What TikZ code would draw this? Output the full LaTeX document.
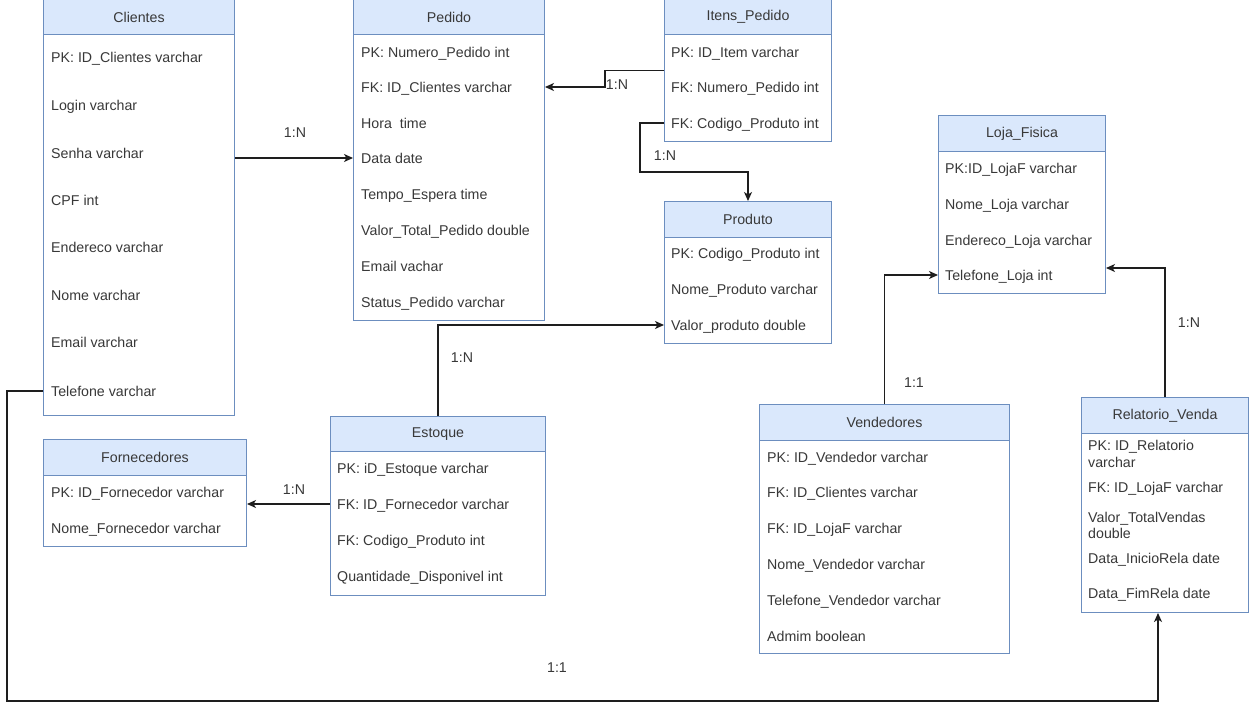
\documentclass[tikz,border=0pt]{standalone}
\usepackage{fontspec}
\setmainfont{Liberation Sans}
\usetikzlibrary{arrows.meta}
\definecolor{hdrfill}{HTML}{DAE8FC}
\definecolor{hdrline}{HTML}{6C8EBF}
\definecolor{txt}{HTML}{383838}
\definecolor{wire}{HTML}{1E1E1E}

% table: #1 name, #2 left, #3 top, #4 right, #5 header bottom, #6 bottom, #7 title
\newcommand\ertable[7]{%
  \node[tblbody, minimum width={#4-#2}, minimum height={#6-#3}] (#1) at (#2,#3) {};
  \node[tblhead, minimum width={#4-#2}, minimum height={#5-#3}] (#1h) at (#2,#3) {#7};
}
% attribute row: #1 name, #2 x, #3 y (centre of the capitals), #4 text
\newcommand\errow[4]{\node[rowtxt] (#1) at (#2,#3) {#4};}

\begin{document}
\begin{tikzpicture}[x=1pt,y=-1pt,
  font=\fontsize{14.2}{16}\selectfont,
  tblbody/.style={draw=hdrline, line width=1pt, anchor=north west, inner sep=0},
  tblhead/.style={draw=hdrline, line width=1pt, fill=hdrfill, anchor=north west, inner sep=0, text=txt},
  rowtxt/.style={anchor=west, inner sep=0, text height=10pt, text depth=0pt, text=txt},
  card/.style={inner sep=0, text=txt},
  conn/.style={draw=wire, line width=1.3pt, -{Stealth[length=9pt,width=8pt,inset=2.5pt]}}]

\useasboundingbox[fill=white] (0,0) rectangle (1251,712);

% ---------- Clientes ----------
\ertable{cli}{43}{-1}{234}{34}{415}{Clientes}
\errow{cli1}{51}{57}{PK: ID\_Clientes varchar}
\errow{cli2}{51}{105}{Login varchar}
\errow{cli3}{51}{153}{Senha varchar}
\errow{cli4}{51}{200}{CPF int}
\errow{cli5}{51}{247}{Endereco varchar}
\errow{cli6}{51}{295}{Nome varchar}
\errow{cli7}{51}{342}{Email varchar}
\errow{cliTel}{51}{391}{Telefone varchar}

% ---------- Pedido ----------
\ertable{ped}{353}{-1}{544}{34}{320}{Pedido}
\errow{ped1}{361}{52}{PK: Numero\_Pedido int}
\errow{pedFK}{361}{87}{FK: ID\_Clientes varchar}
\errow{ped3}{361}{123}{Hora\ \ time}
\errow{pedData}{361}{158}{Data date}
\errow{ped5}{361}{194}{Tempo\_Espera time}
\errow{ped6}{361}{230}{Valor\_Total\_Pedido double}
\errow{ped7}{361}{266}{Email vachar}
\errow{ped8}{361}{302}{Status\_Pedido varchar}

% ---------- Itens_Pedido ----------
\ertable{itn}{664}{-1}{831}{34}{141}{Itens\_Pedido}
\errow{itn1}{671}{52}{PK: ID\_Item varchar}
\errow{itn2}{671}{87}{FK: Numero\_Pedido int}
\errow{itnCod}{671}{123}{FK: Codigo\_Produto int}

% ---------- Produto ----------
\ertable{prd}{664}{201}{831}{237}{343}{Produto}
\errow{prd1}{671}{253}{PK: Codigo\_Produto int}
\errow{prd2}{671}{289}{Nome\_Produto varchar}
\errow{prdVal}{671}{325}{Valor\_produto double}

% ---------- Loja_Fisica ----------
\ertable{loja}{938}{115}{1105}{151}{293}{Loja\_Fisica}
\errow{loja1}{945}{168}{PK:ID\_LojaF varchar}
\errow{loja2}{945}{204}{Nome\_Loja varchar}
\errow{loja3}{945}{240}{Endereco\_Loja varchar}
\errow{lojaTel}{945}{275}{Telefone\_Loja int}

% ---------- Fornecedores ----------
\ertable{forn}{43}{439}{246}{475}{546}{Fornecedores}
\errow{forn1}{51}{492}{PK: ID\_Fornecedor varchar}
\errow{forn2}{51}{528}{Nome\_Fornecedor varchar}

% ---------- Estoque ----------
\ertable{est}{330}{416}{545}{451}{595}{Estoque}
\errow{est1}{337}{468}{PK: iD\_Estoque varchar}
\errow{estFK}{337}{504}{FK: ID\_Fornecedor varchar}
\errow{est3}{337}{540}{FK: Codigo\_Produto int}
\errow{est4}{337}{576}{Quantidade\_Disponivel int}

% ---------- Vendedores ----------
\ertable{vend}{759}{404}{1009}{440}{653}{Vendedores}
\errow{vend1}{767}{457}{PK: ID\_Vendedor varchar}
\errow{vend2}{767}{492}{FK: ID\_Clientes varchar}
\errow{vend3}{767}{528}{FK: ID\_LojaF varchar}
\errow{vend4}{767}{564}{Nome\_Vendedor varchar}
\errow{vend5}{767}{600}{Telefone\_Vendedor varchar}
\errow{vend6}{767}{636}{Admim boolean}

% ---------- Relatorio_Venda ----------
\ertable{rel}{1081}{397}{1248}{433}{612}{Relatorio\_Venda}
\errow{rel1a}{1088}{445}{PK: ID\_Relatorio}
\errow{rel1b}{1088}{462}{varchar}
\errow{rel2}{1088}{487}{FK: ID\_LojaF varchar}
\errow{rel3a}{1088}{517}{Valor\_TotalVendas}
\errow{rel3b}{1088}{533}{double}
\errow{rel4}{1088}{558}{Data\_InicioRela date}
\errow{rel5}{1088}{593}{Data\_FimRela date}

% ---------- relationships ----------
\draw[conn] (cli.east |- pedData.west) -- (ped.west |- pedData.west);
\node[card] (c1) at (295,133) {1:N};

\draw[conn] (itn.west) -- ++(-59,0) |- (ped.east |- pedFK.west);
\node[card] (c2) at (617,85) {1:N};

\draw[conn] (itn.west |- itnCod.west) -- ++(-24,0) -- ++(0,49) -| (prd.north);
\node[card] (c3) at (665,156) {1:N};

\draw[conn] (est.north) |- (prd.west |- prdVal.west);
\node[card] (c4) at (462,358) {1:N};

\draw[conn] (est.west |- estFK.west) -- (forn.east |- estFK.west);
\node[card] (c5) at (294,490) {1:N};

\draw[conn] (vend.north) |- (loja.west |- lojaTel.west);
\node[card] (c6) at (914,383) {1:1};

\draw[conn] (rel.north) |- ([yshift=7pt]loja.east |- lojaTel.west);
\node[card] (c7) at (1189,323) {1:N};

\draw[conn] (cli.west |- cliTel.west) -- ++(-36,0) -- ++(0,310) -| ([xshift=-7pt]rel.south);
\node[card] (c8) at (557,668) {1:1};

\end{tikzpicture}
\end{document}
